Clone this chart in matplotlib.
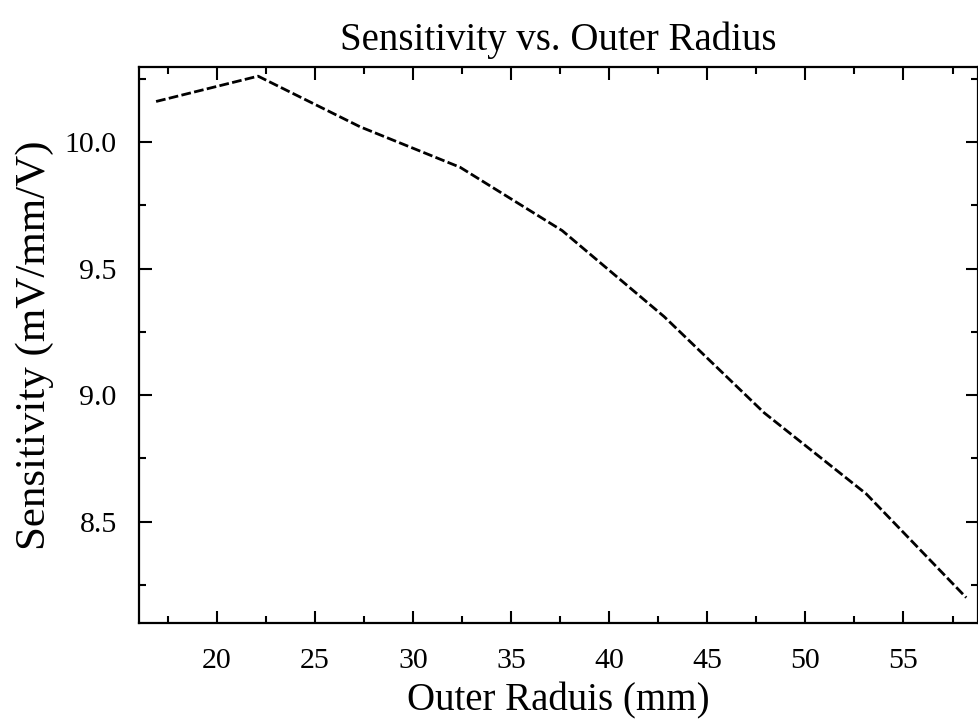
import matplotlib
matplotlib.use("Agg")
import matplotlib.pyplot as plt
from matplotlib.ticker import MultipleLocator

outer_radius = [16.9, 22.1, 27.3, 32.4, 37.6, 42.8, 47.9, 53.1, 58.2]
sensitivity = [10.16, 10.26, 10.06, 9.90, 9.65, 9.31, 8.93, 8.61, 8.20]

plt.rcParams['font.family'] = ['Liberation Serif', 'DejaVu Serif']

fig = plt.figure(figsize=(9.79, 7.21), dpi=100)
ax = fig.add_axes([0.142, 0.136, 0.857, 0.771])

ax.plot(outer_radius, sensitivity, color='black', linewidth=2,
        linestyle=(0, (3.5, 1.2)))

ax.set_xlim(16.03, 58.8)
ax.set_ylim(8.1, 10.296)
ax.xaxis.set_major_locator(MultipleLocator(5))
ax.xaxis.set_minor_locator(MultipleLocator(2.5))
ax.yaxis.set_major_locator(MultipleLocator(0.5))
ax.yaxis.set_minor_locator(MultipleLocator(0.25))
ax.yaxis.set_major_formatter(plt.FormatStrFormatter('%.1f'))

ax.tick_params(which='both', direction='in', top=True, right=True,
               labelsize=21.5, width=1.5, color='black')
ax.tick_params(axis='x', pad=18)
ax.tick_params(axis='y', pad=16)
ax.tick_params(which='major', length=9)
ax.tick_params(which='minor', length=5)
for s in ax.spines.values():
    s.set_linewidth(1.6)

ax.set_title('Sensitivity vs. Outer Radius', fontsize=28, pad=12)
ax.set_xlabel('Outer Raduis (mm)', fontsize=28, labelpad=6)
ax.set_ylabel('Sensitivity (mV/mm/V)', fontsize=31, labelpad=8)

fig.savefig('out.png', dpi=100)
